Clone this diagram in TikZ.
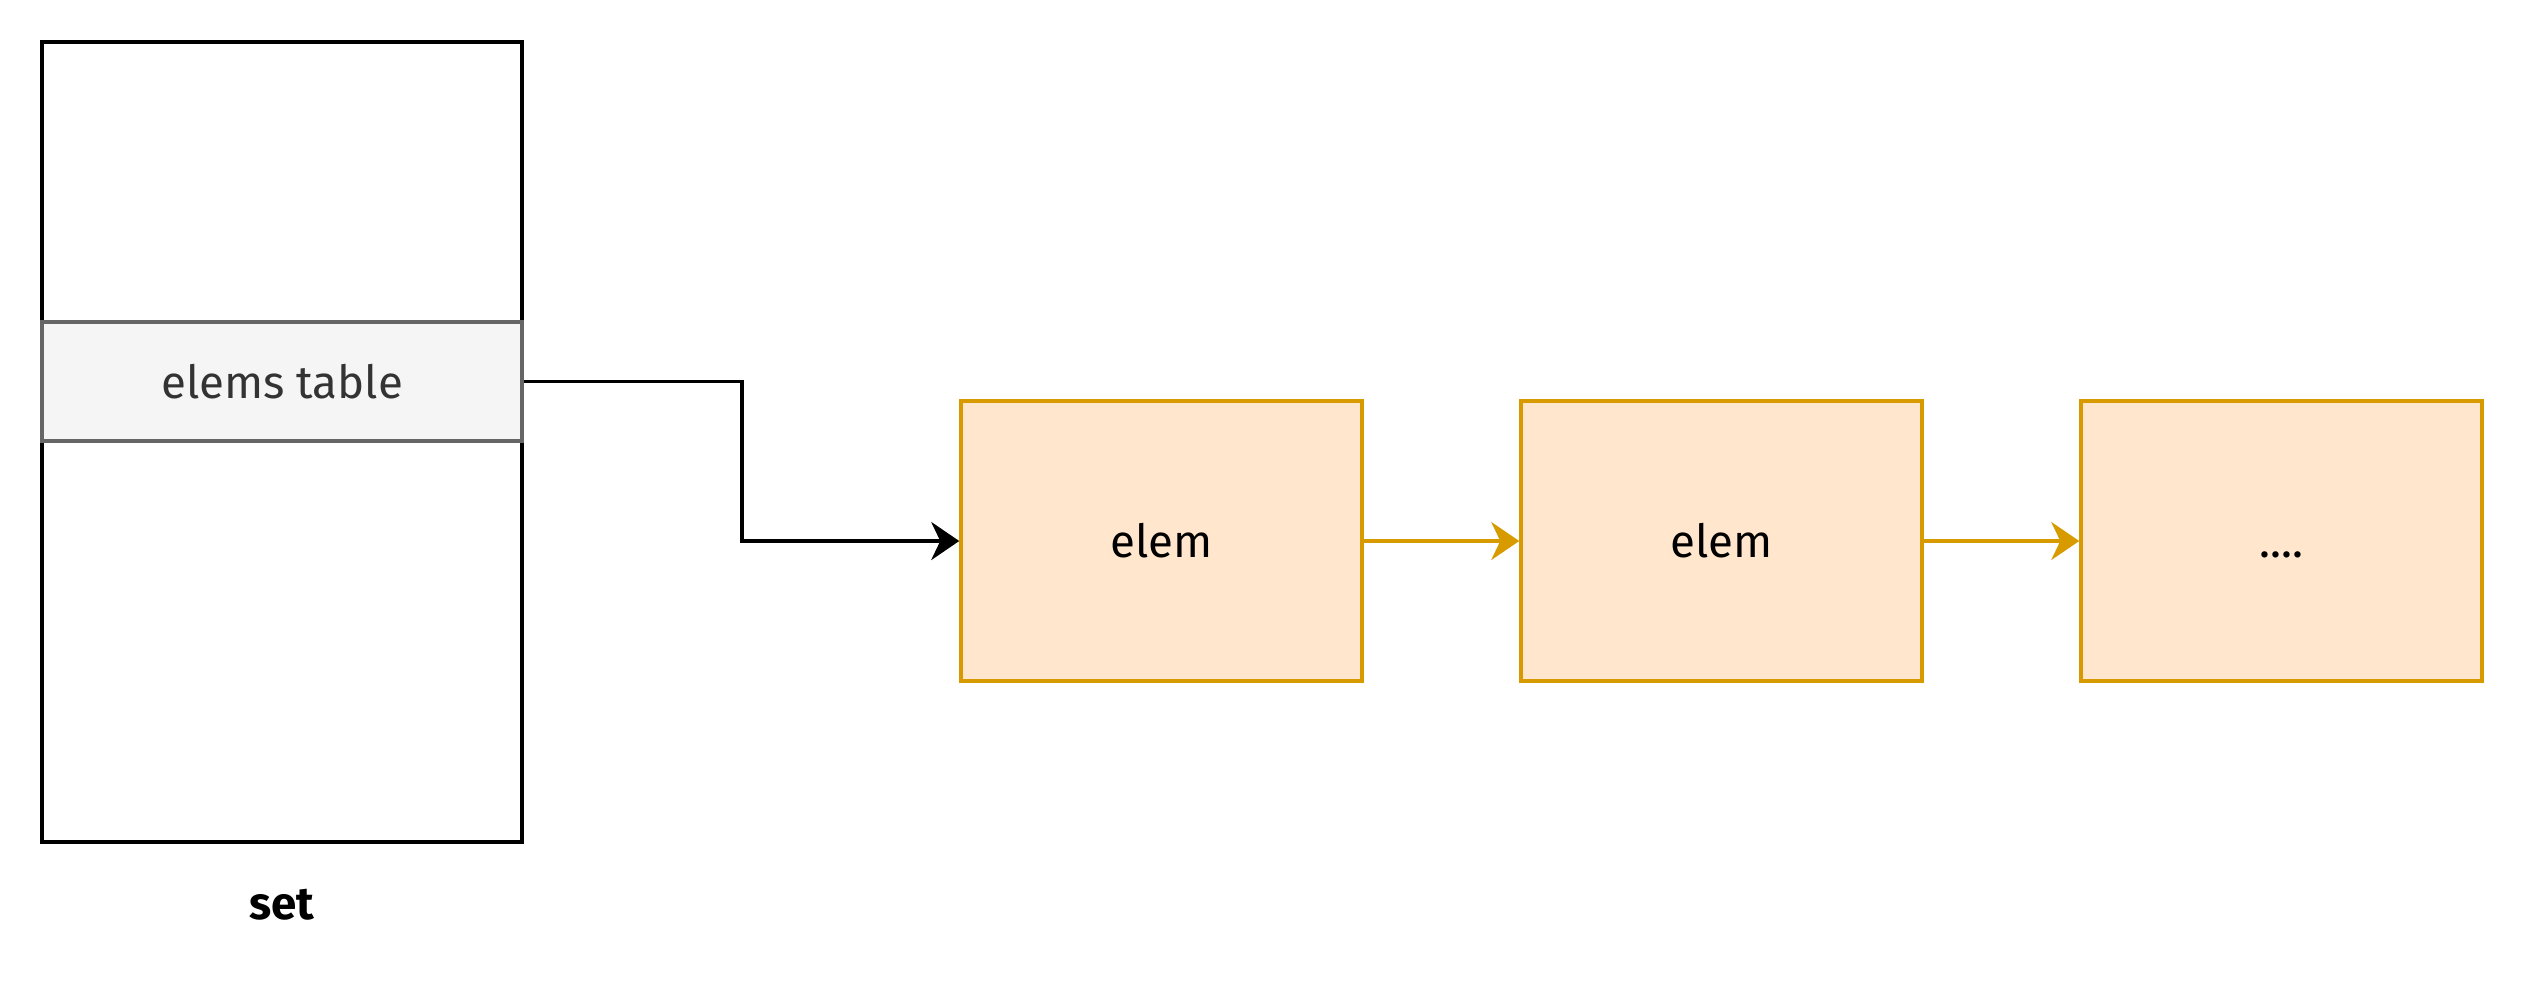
\documentclass[tikz,border=0pt]{standalone}
\usepackage{fontspec}
\setmainfont{Fira Sans}
\usetikzlibrary{arrows.meta}
\definecolor{orstroke}{HTML}{D79B00}
\definecolor{orfill}{HTML}{FFE6CC}
\definecolor{bandfill}{HTML}{F5F5F5}
\definecolor{bandstroke}{HTML}{666666}
\definecolor{bandtext}{HTML}{333333}
\tikzset{
  txt/.style={font=\fontsize{13pt}{15pt}\selectfont},
  setbox/.style={draw=black, fill=white, line width=1pt, minimum width=4.80cm, minimum height=8.00cm, inner sep=0pt},
  bandbox/.style={draw=bandstroke, fill=bandfill, line width=1pt, minimum width=4.80cm, minimum height=1.19cm, inner sep=0pt, text=bandtext, txt},
  elembox/.style={draw=orstroke, fill=orfill, line width=1pt, minimum width=4.01cm, minimum height=2.80cm, inner sep=0pt, txt},
  tip/.style={-{Stealth[length=0.28cm, width=0.38cm, inset=0.09cm]}, line width=1pt},
}
\begin{document}
\begin{tikzpicture}
\useasboundingbox (0,0) rectangle (25.24,-10.04);
\node[setbox] (set) at (2.82,-4.42) {};
\node[bandbox] (band) at (2.82,-3.815) {elems table};
\node[font=\bfseries\fontsize{13pt}{15pt}\selectfont] (setlabel) at (2.82,-9.05) {set};
\node[elembox] (e1) at (11.615,-5.41) {elem};
\node[elembox] (e2) at (17.215,-5.41) {elem};
\node[elembox] (e3) at (22.815,-5.41) {\vphantom{elem}....};
\coordinate (bend) at (7.42,-3.815);
\draw[tip, black] (band.east) -- (bend) |- (e1.west);
\draw[tip, orstroke] (e1.east) -- (e2.west);
\draw[tip, orstroke] (e2.east) -- (e3.west);
\end{tikzpicture}
\end{document}
